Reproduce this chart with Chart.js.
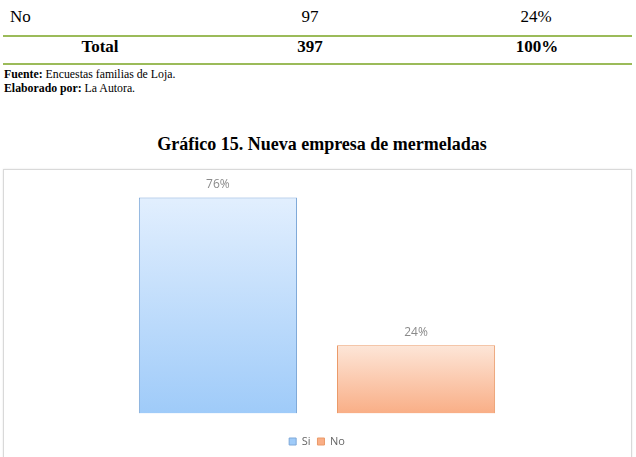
<!DOCTYPE html>
<html>
<head>
<meta charset="utf-8">
<script src="https://cdn.jsdelivr.net/npm/chart.js@4.4.1/dist/chart.umd.min.js"></script>
<style>
  body { margin: 0; background: #fff; width: 636px; height: 457px; overflow: hidden; position: relative; font-family: "Liberation Serif", "Times New Roman", serif; color: #000; }
  .t { position: absolute; font-size: 17px; line-height: 20px; white-space: nowrap; }
  .c { transform: translateX(-50%); }
  .b { font-weight: bold; }
  .rule { position: absolute; left: 3px; width: 629px; height: 2px; background: #9bbb59; }
  .note { position: absolute; left: 4px; font-size: 11.8px; line-height: 14px; white-space: nowrap; }
  #box { position: absolute; left: 3px; top: 169px; width: 627px; height: 300px; border: 1px solid #d9d9d9; box-shadow: 0 0 2px #e6e6e6; }
  #wrap { position: absolute; left: 4px; top: 170px; width: 626px; height: 287px; }
</style>
</head>
<body>
<div class="t" style="left:10px;top:7px">No</div>
<div class="t c" style="left:310px;top:7px">97</div>
<div class="t c" style="left:536px;top:7px">24%</div>
<div class="rule" style="top:35px"></div>
<div class="t c b" style="left:100px;top:37px">Total</div>
<div class="t c b" style="left:310px;top:37px">397</div>
<div class="t c b" style="left:537px;top:37px">100%</div>
<div class="rule" style="top:63px"></div>
<div class="note" style="top:67px"><b>Fuente:</b> Encuestas familias de Loja.</div>
<div class="note" style="top:81px"><b>Elaborado por:</b> La Autora.</div>
<div class="t c b" style="left:322px;top:134px;font-size:18px">Gráfico 15. Nueva empresa de mermeladas</div>
<div id="box"></div>
<div id="wrap"><canvas id="chart"></canvas></div>
<script>
let seriesNames = ['Si', 'No'];
let seriesValues = [76, 24];
let labelsText = ['76%', '24%'];
let topColors = ['#e2effe', '#fde6d8'];
let bottomColors = ['#9fcbf9', '#f9ae86'];
let borderColors = ['#7fa9d9', '#eb9a68'];

function barGradient(ctx, i){
    let chart = ctx.chart;
    if(!chart.chartArea){
        return bottomColors[i];
    }
    let y = chart.scales.y;
    let g = chart.ctx.createLinearGradient(0, y.getPixelForValue(seriesValues[i]), 0, y.getPixelForValue(0));
    g.addColorStop(0, topColors[i]);
    g.addColorStop(1, bottomColors[i]);
    return g;
}

// draws the % above each bar
let valueLabels = {
    id: 'valueLabels',
    afterDatasetsDraw(chart){
        let c = chart.ctx;
        c.save();
        c.font = '12px "Open Sans", sans-serif';
        c.fillStyle = '#8a8a8a';
        c.textAlign = 'center';
        c.textBaseline = 'bottom';
        chart.data.datasets.forEach(function(ds, i){
            let bar = chart.getDatasetMeta(i).data[0];
            c.fillText(labelsText[i], bar.x, bar.y - 7);
        });
        c.restore();
    }
};

let datasets = seriesNames.map(function(name, i){
    return {
        label: name,
        data: [seriesValues[i]],
        backgroundColor: function(ctx){ return barGradient(ctx, i); },
        borderColor: borderColors[i],
        borderWidth: 1,
        barPercentage: 0.798,
        categoryPercentage: 0.633
    };
});

new Chart(document.getElementById('chart'), {
    type: 'bar',
    data: { labels: [''], datasets: datasets },
    options: {
        responsive: true,
        maintainAspectRatio: false,
        animation: false,
        layout: { padding: { top: 16, left: 0, right: 0, bottom: 0 } },
        scales: {
            x: { display: false },
            y: { display: false, min: 0, max: 80 }
        },
        plugins: {
            tooltip: { enabled: false },
            legend: {
                position: 'bottom',
                title: { display: true, text: '', padding: { top: 1, bottom: 0 }, font: { size: 12 } },
                labels: {
                    boxWidth: 7,
                    boxHeight: 7,
                    padding: 7,
                    color: '#7f7f7f',
                    font: { family: '"Open Sans", sans-serif', size: 11 },
                    generateLabels: function(chart){
                        return seriesNames.map(function(name, i){
                            return { text: name, fillStyle: bottomColors[i], strokeStyle: borderColors[i], lineWidth: 1, datasetIndex: i };
                        });
                    }
                }
            }
        }
    },
    plugins: [valueLabels]
});
</script>
</body>
</html>
